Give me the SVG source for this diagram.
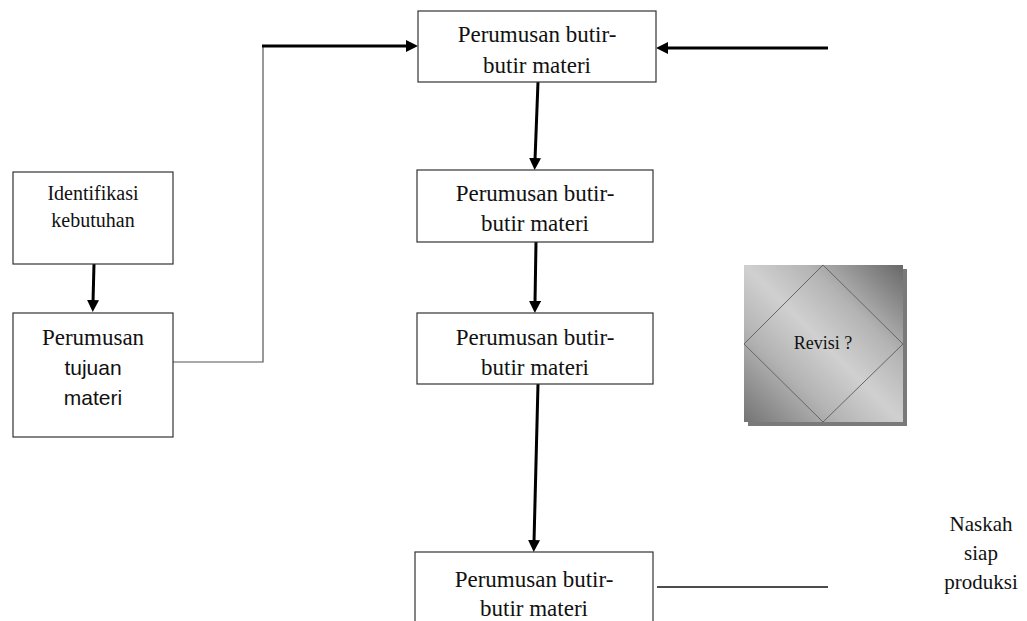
<svg xmlns="http://www.w3.org/2000/svg" width="1027" height="621" viewBox="0 0 1027 621">
<style>
.box{fill:#fff;stroke:#333;stroke-width:1.2}
.t{font-family:"Liberation Serif","Times New Roman",serif;fill:#111;text-anchor:middle}
.s{font-family:"Liberation Sans",Arial,sans-serif;fill:#111;text-anchor:middle}
.thick{stroke:#000;stroke-width:3;fill:none}
.thin{stroke:#555;stroke-width:1.2;fill:none}
.plain{stroke:#111;stroke-width:1.3;fill:none}
</style>
<defs>
<marker id="ah" viewBox="0 0 12 12" markerWidth="12" markerHeight="12" refX="2" refY="6" orient="auto" markerUnits="userSpaceOnUse">
<path d="M0,0 L12,6 L0,12 z" fill="#000"/>
</marker>
<linearGradient id="g" x1="1" y1="0" x2="0" y2="1">
<stop offset="0" stop-color="#686868"/>
<stop offset="0.3" stop-color="#b4b4b4"/>
<stop offset="0.5" stop-color="#d0d0d0"/>
<stop offset="0.7" stop-color="#b4b4b4"/>
<stop offset="1" stop-color="#747474"/>
</linearGradient>
</defs>
<g id="connectors">
<line class="thick" x1="828" y1="48" x2="666" y2="48" marker-end="url(#ah)"/>
<polyline class="thin" points="173,362 263,362 263,46"/>
<line class="thick" x1="262" y1="46" x2="408" y2="46" marker-end="url(#ah)"/>
<line class="thick" x1="94" y1="264" x2="93" y2="302" marker-end="url(#ah)"/>
<line class="thick" x1="538" y1="82" x2="535" y2="160" marker-end="url(#ah)"/>
<line class="thick" x1="536" y1="242" x2="535" y2="303" marker-end="url(#ah)"/>
<line class="thick" x1="538" y1="384" x2="534" y2="542" marker-end="url(#ah)"/>
<line class="plain" x1="657" y1="587" x2="828" y2="587"/>
</g>
<g id="node-identifikasi">
<rect class="box" x="13" y="172" width="160" height="92"/>
<text class="t" x="93" y="200" font-size="20">Identifikasi</text>
<text class="t" x="93" y="227" font-size="20">kebutuhan</text>
</g>
<g id="node-tujuan">
<rect class="box" x="13" y="313" width="160" height="124"/>
<text class="t" x="93" y="345" font-size="23">Perumusan</text>
<text class="s" x="93" y="375" font-size="21">tujuan</text>
<text class="s" x="93" y="405" font-size="21">materi</text>
</g>
<g id="node-butir1">
<rect class="box" x="418" y="11" width="238" height="71"/>
<text class="t" x="537" y="42" font-size="23">Perumusan butir-</text>
<text class="t" x="537" y="73" font-size="23">butir materi</text>
</g>
<g id="node-butir2">
<rect class="box" x="417" y="170" width="236" height="72"/>
<text class="t" x="535" y="201" font-size="23">Perumusan butir-</text>
<text class="t" x="535" y="231" font-size="23">butir materi</text>
</g>
<g id="node-butir3">
<rect class="box" x="417" y="313" width="236" height="71"/>
<text class="t" x="535" y="345" font-size="23">Perumusan butir-</text>
<text class="t" x="535" y="375" font-size="23">butir materi</text>
</g>
<g id="node-butir4">
<rect class="box" x="415" y="552" width="238" height="80"/>
<text class="t" x="534" y="587" font-size="23">Perumusan butir-</text>
<text class="t" x="534" y="616" font-size="23">butir materi</text>
</g>
<g id="node-revisi">
<rect x="748" y="269" width="159" height="157" fill="#7a7a7a"/>
<rect x="744" y="265" width="159" height="157" fill="url(#g)"/>
<polygon points="823,265 903,344 823,422 744,344" fill="none" stroke="#666" stroke-width="1"/>
<text class="t" x="823" y="349" font-size="18">Revisi ?</text>
</g>
<g id="node-naskah">
<text class="t" x="981" y="531" font-size="21">Naskah</text>
<text class="t" x="981" y="560" font-size="21">siap</text>
<text class="t" x="981" y="589" font-size="21">produksi</text>
</g>
</svg>
